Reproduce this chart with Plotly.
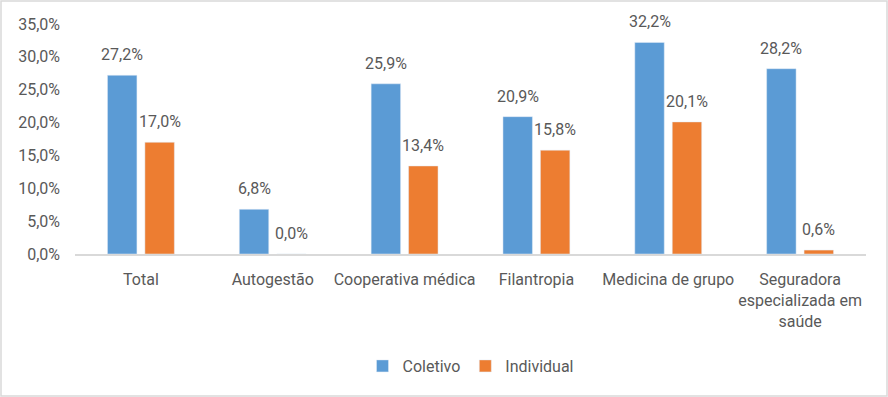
import plotly.graph_objects as go

categories = ["Total", "Autogestão", "Cooperativa médica", "Filantropia",
              "Medicina de grupo", "Seguradora<br>especializada em<br>saúde"]
coletivo = [27.2, 6.8, 25.9, 20.9, 32.2, 28.2]
individual = [17.0, 0.0, 13.4, 15.8, 20.1, 0.6]
series_names = ["Coletivo", "Individual"]
colors = ["#5B9BD5", "#ED7D31"]

FONT = "Liberation Sans Narrow, Roboto, sans-serif"
TXT = "#595959"
FS = 16

L, R, T, B = 75, 22, 24, 143
W, H = 888, 397
pw, ph = W - L - R, H - T - B
BARGAP = 0.432
GROUPGAP = 0.213
cat_px = pw / len(categories)
slot_px = cat_px * (1 - BARGAP) / 2

fig = go.Figure()
annotations = []
for i, (name, vals, col) in enumerate(zip(series_names, [coletivo, individual], colors)):
    fig.add_trace(go.Bar(
        x=categories, y=vals, name=name, marker_color=col,
    ))
    shift = (i - 0.5) * slot_px
    for c, v in zip(categories, vals):
        annotations.append(dict(
            x=c, y=v, xref="x", yref="y", text=f"{v:.1f}%".replace(".", ","),
            showarrow=False, xshift=shift, yanchor="bottom", yshift=9,
            font=dict(family=FONT, size=FS, color=TXT)))

fig.update_layout(
    width=W, height=H,
    margin=dict(l=L, r=R, t=T, b=B, autoexpand=False),
    barmode="group", bargap=BARGAP, bargroupgap=GROUPGAP,
    separators=",.",
    plot_bgcolor="white", paper_bgcolor="white",
    font=dict(family=FONT, size=FS, color=TXT),
    yaxis=dict(range=[0, 35], dtick=5, tickformat=".1f", ticksuffix="%",
               showgrid=False, zeroline=False, showline=False, automargin=False,
               ticks="", ticklabelstandoff=14, tickfont=dict(size=FS, color=TXT)),
    xaxis=dict(showline=True, linecolor="#D9D9D9", linewidth=1.5, ticks="",
               automargin=False, ticklabelstandoff=10,
               showgrid=False, tickfont=dict(size=FS, color=TXT)),
    legend=dict(orientation="h", x=0.5, xanchor="center",
                y=(254 - 366) / ph, yanchor="middle", itemwidth=30,
                font=dict(size=FS, color=TXT)),
    showlegend=True,
    annotations=annotations,
    shapes=[dict(type="rect", xref="paper", yref="paper",
                 x0=(1 - L) / pw, x1=(W - 1 - L) / pw,
                 y0=(T + ph - (H - 1)) / ph, y1=(T + ph - 1) / ph,
                 line=dict(color="#D9D9D9", width=1.5), layer="below")],
)

fig.write_html("out.html", config={"displayModeBar": False},
               post_script="document.body.style.margin='0';document.body.style.padding='0';")
